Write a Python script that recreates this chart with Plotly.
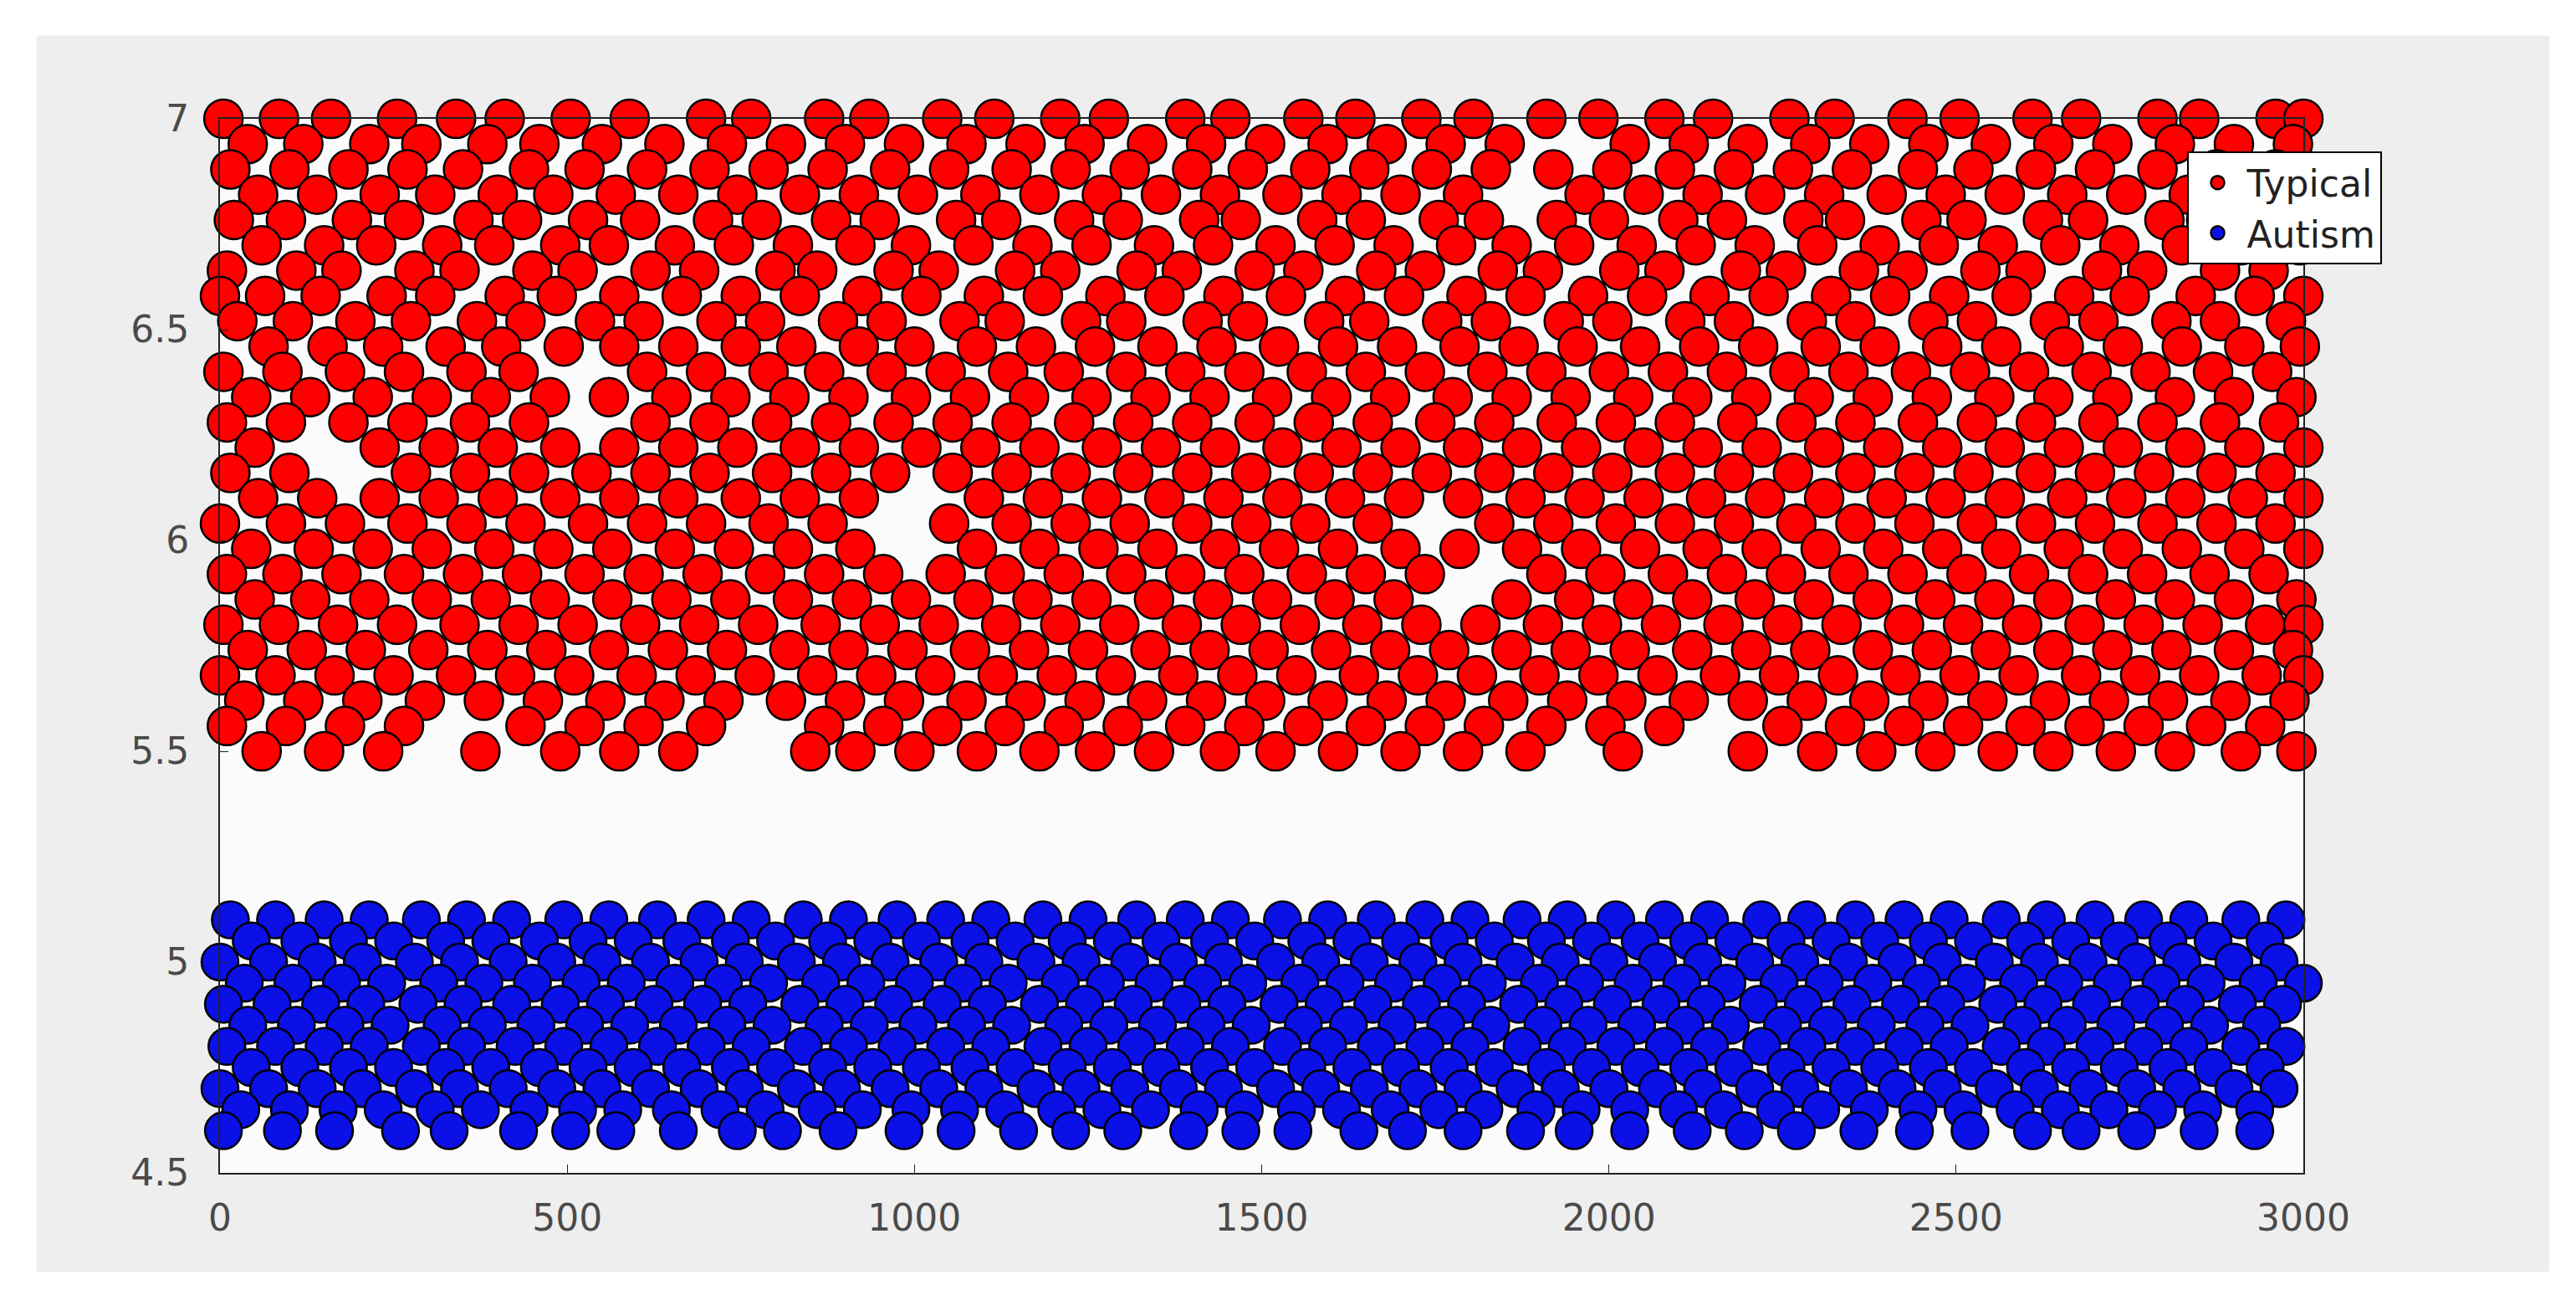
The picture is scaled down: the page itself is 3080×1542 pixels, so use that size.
import plotly.graph_objects as go

# y levels (rows) and x positions, per row
TYPICAL_Y = [7.00, 6.94, 6.88, 6.82, 6.76, 6.70, 6.64, 6.58, 6.52, 6.46, 6.40, 6.34, 6.28,
             6.22, 6.16, 6.10, 6.04, 5.98, 5.92, 5.86, 5.80, 5.74, 5.68, 5.62, 5.56, 5.50]
TYPICAL_X = [
    [5, 85, 160, 255, 340, 410, 505, 590, 700, 765, 870, 935, 1040, 1115, 1210, 1280, 1390, 1455, 1560, 1635, 1730, 1805, 1910, 1985, 2080, 2150, 2260, 2325, 2430, 2505, 2610, 2680, 2790, 2850, 2960, 3000],
    [40, 120, 215, 290, 385, 460, 550, 640, 730, 815, 900, 985, 1075, 1160, 1245, 1335, 1420, 1505, 1595, 1680, 1765, 1850, 2030, 2115, 2200, 2290, 2375, 2460, 2550, 2640, 2725, 2815, 2900, 2985],
    [15, 100, 185, 270, 350, 445, 525, 615, 705, 790, 875, 965, 1050, 1140, 1225, 1310, 1400, 1480, 1570, 1655, 1745, 1830, 1920, 2005, 2095, 2180, 2265, 2350, 2445, 2525, 2615, 2700, 2790, 2875, 2960],
    [55, 140, 230, 310, 400, 480, 570, 660, 745, 835, 920, 1005, 1095, 1180, 1270, 1355, 1440, 1530, 1615, 1700, 1790, 1965, 2050, 2135, 2225, 2310, 2400, 2485, 2570, 2660, 2745, 2835, 2920, 3000],
    [20, 95, 190, 265, 365, 435, 530, 605, 710, 780, 880, 950, 1060, 1125, 1230, 1300, 1410, 1470, 1580, 1650, 1755, 1820, 1925, 2000, 2100, 2170, 2280, 2340, 2450, 2515, 2625, 2690, 2800, 2860, 2970],
    [60, 150, 225, 320, 395, 490, 560, 655, 740, 825, 915, 995, 1085, 1170, 1255, 1345, 1430, 1520, 1605, 1690, 1780, 1860, 1950, 2040, 2125, 2210, 2300, 2390, 2475, 2560, 2650, 2735, 2825, 2910, 2995],
    [10, 110, 175, 280, 345, 450, 515, 620, 690, 800, 860, 970, 1035, 1145, 1210, 1320, 1385, 1490, 1560, 1665, 1735, 1840, 1905, 2015, 2080, 2190, 2255, 2360, 2430, 2535, 2600, 2710, 2775, 2880, 2950],
    [0, 65, 145, 240, 310, 410, 485, 575, 665, 750, 835, 925, 1010, 1100, 1185, 1275, 1360, 1445, 1535, 1620, 1705, 1795, 1880, 1970, 2055, 2145, 2230, 2320, 2405, 2490, 2580, 2670, 2750, 2845, 2930, 3000],
    [25, 105, 195, 275, 370, 440, 540, 610, 715, 785, 890, 960, 1065, 1130, 1240, 1305, 1415, 1480, 1590, 1655, 1760, 1830, 1935, 2005, 2110, 2180, 2285, 2355, 2460, 2530, 2635, 2705, 2810, 2880, 2975],
    [70, 155, 235, 325, 405, 495, 575, 660, 750, 830, 920, 1000, 1090, 1175, 1260, 1350, 1435, 1525, 1610, 1695, 1785, 1870, 1955, 2045, 2130, 2215, 2305, 2390, 2480, 2565, 2655, 2740, 2825, 2915, 2995],
    [5, 90, 180, 265, 355, 430, 615, 700, 790, 870, 960, 1045, 1135, 1215, 1305, 1390, 1475, 1565, 1650, 1735, 1825, 1910, 2000, 2085, 2170, 2260, 2345, 2435, 2520, 2605, 2695, 2780, 2870, 2955],
    [45, 130, 220, 305, 390, 475, 560, 650, 735, 820, 905, 995, 1080, 1165, 1255, 1340, 1425, 1515, 1600, 1685, 1775, 1860, 1945, 2035, 2120, 2205, 2295, 2380, 2465, 2555, 2640, 2725, 2815, 2900, 2990],
    [10, 95, 185, 270, 360, 445, 620, 705, 795, 880, 970, 1055, 1140, 1230, 1315, 1400, 1490, 1575, 1660, 1750, 1835, 1925, 2010, 2095, 2185, 2270, 2355, 2445, 2530, 2615, 2705, 2790, 2880, 2965],
    [50, 230, 315, 400, 490, 575, 660, 745, 835, 920, 1010, 1095, 1180, 1270, 1355, 1440, 1530, 1615, 1700, 1790, 1875, 1960, 2050, 2135, 2220, 2310, 2395, 2480, 2570, 2655, 2740, 2830, 2915, 3000],
    [15, 100, 275, 360, 445, 535, 620, 705, 795, 880, 965, 1055, 1140, 1225, 1315, 1400, 1485, 1575, 1660, 1745, 1835, 1920, 2005, 2095, 2180, 2265, 2355, 2440, 2525, 2615, 2700, 2785, 2875, 2960],
    [55, 140, 230, 315, 400, 490, 575, 660, 750, 835, 920, 1100, 1185, 1270, 1360, 1445, 1530, 1620, 1705, 1790, 1880, 1965, 2050, 2140, 2225, 2310, 2400, 2485, 2570, 2660, 2745, 2830, 2920, 3000],
    [0, 95, 180, 270, 355, 440, 530, 615, 700, 790, 875, 1050, 1140, 1225, 1310, 1400, 1485, 1570, 1660, 1835, 1920, 2010, 2095, 2180, 2270, 2355, 2440, 2530, 2615, 2700, 2790, 2875, 2960],
    [45, 135, 220, 305, 395, 480, 565, 655, 740, 825, 915, 1090, 1180, 1265, 1350, 1440, 1525, 1610, 1700, 1785, 1875, 1960, 2045, 2135, 2220, 2305, 2395, 2480, 2565, 2655, 2740, 2825, 2915, 3000],
    [10, 90, 175, 265, 350, 435, 525, 610, 695, 785, 870, 955, 1045, 1130, 1215, 1305, 1390, 1475, 1565, 1650, 1735, 1910, 1995, 2085, 2170, 2255, 2345, 2430, 2515, 2605, 2690, 2775, 2865, 2950],
    [50, 130, 215, 305, 390, 475, 565, 650, 735, 825, 910, 995, 1085, 1170, 1255, 1345, 1430, 1515, 1605, 1690, 1860, 1950, 2035, 2120, 2210, 2295, 2380, 2470, 2555, 2640, 2730, 2815, 2900, 2990],
    [5, 85, 170, 255, 345, 430, 515, 605, 690, 775, 865, 950, 1035, 1125, 1210, 1295, 1385, 1470, 1555, 1645, 1730, 1815, 1905, 1990, 2075, 2165, 2250, 2335, 2425, 2510, 2595, 2685, 2770, 2855, 2945, 3000],
    [40, 125, 210, 300, 385, 470, 560, 645, 730, 820, 905, 990, 1080, 1165, 1250, 1340, 1425, 1510, 1600, 1685, 1770, 1860, 1945, 2030, 2120, 2205, 2290, 2380, 2465, 2550, 2640, 2725, 2810, 2900, 2985],
    [0, 80, 165, 250, 340, 425, 510, 600, 685, 770, 860, 945, 1030, 1120, 1205, 1290, 1380, 1465, 1550, 1640, 1725, 1810, 1900, 1985, 2070, 2160, 2245, 2330, 2420, 2505, 2590, 2680, 2765, 2850, 2940, 3000],
    [35, 120, 205, 295, 380, 465, 555, 640, 725, 815, 900, 985, 1075, 1160, 1245, 1335, 1420, 1505, 1595, 1680, 1765, 1855, 1940, 2025, 2115, 2200, 2285, 2375, 2460, 2545, 2635, 2720, 2805, 2895, 2980],
    [10, 95, 180, 265, 440, 525, 610, 700, 870, 955, 1040, 1130, 1215, 1300, 1390, 1475, 1560, 1650, 1735, 1820, 1910, 1995, 2080, 2250, 2340, 2425, 2510, 2600, 2685, 2770, 2860, 2945],
    [60, 150, 235, 375, 490, 575, 660, 850, 915, 1000, 1090, 1180, 1260, 1345, 1440, 1520, 1610, 1700, 1790, 1880, 2020, 2200, 2300, 2385, 2470, 2560, 2640, 2730, 2815, 2910, 2990],
]

AUTISM_Y = [5.10, 5.05, 5.00, 4.95, 4.90, 4.85, 4.80, 4.75, 4.70, 4.65, 4.60]
AUTISM_X = [
    [15, 80, 150, 215, 290, 355, 420, 495, 560, 630, 700, 765, 840, 905, 975, 1045, 1110, 1185, 1250, 1320, 1390, 1455, 1530, 1595, 1665, 1735, 1800, 1875, 1940, 2010, 2080, 2145, 2220, 2285, 2355, 2425, 2490, 2565, 2630, 2700, 2770, 2835, 2910, 2975, 3010],
    [45, 115, 185, 250, 325, 390, 460, 530, 595, 665, 735, 800, 875, 940, 1010, 1080, 1145, 1220, 1285, 1355, 1425, 1490, 1565, 1630, 1700, 1770, 1835, 1910, 1975, 2045, 2115, 2180, 2255, 2320, 2390, 2460, 2525, 2600, 2665, 2735, 2805, 2870, 2945, 3005],
    [0, 70, 140, 205, 280, 345, 415, 485, 550, 620, 690, 755, 830, 895, 965, 1035, 1100, 1175, 1240, 1310, 1380, 1445, 1520, 1585, 1655, 1725, 1790, 1865, 1930, 2000, 2070, 2135, 2210, 2275, 2345, 2415, 2480, 2555, 2620, 2690, 2760, 2825, 2900, 2965, 3015],
    [35, 105, 175, 240, 315, 380, 450, 520, 585, 655, 725, 790, 865, 930, 1000, 1070, 1135, 1210, 1275, 1345, 1415, 1480, 1555, 1620, 1690, 1760, 1825, 1900, 1965, 2035, 2105, 2170, 2245, 2310, 2380, 2450, 2515, 2590, 2655, 2725, 2795, 2860, 2935, 3000],
    [5, 75, 145, 210, 285, 350, 420, 490, 555, 625, 695, 760, 835, 900, 970, 1040, 1105, 1180, 1245, 1315, 1385, 1450, 1525, 1590, 1660, 1730, 1795, 1870, 1935, 2005, 2075, 2140, 2215, 2280, 2350, 2420, 2485, 2560, 2625, 2695, 2765, 2830, 2905, 2970, 3020],
    [40, 110, 180, 245, 320, 385, 455, 525, 590, 660, 730, 795, 870, 935, 1005, 1075, 1140, 1215, 1280, 1350, 1420, 1485, 1560, 1625, 1695, 1765, 1830, 1905, 1970, 2040, 2110, 2175, 2250, 2315, 2385, 2455, 2520, 2595, 2660, 2730, 2800, 2865, 2940, 3005],
    [10, 80, 150, 215, 290, 355, 425, 495, 560, 630, 700, 765, 840, 905, 975, 1045, 1110, 1185, 1250, 1320, 1390, 1455, 1530, 1595, 1665, 1735, 1800, 1875, 1940, 2010, 2080, 2145, 2220, 2285, 2355, 2425, 2490, 2565, 2630, 2700, 2770, 2835, 2910, 2975, 3015],
    [45, 115, 185, 250, 325, 390, 460, 530, 595, 665, 735, 800, 875, 940, 1010, 1080, 1145, 1220, 1285, 1355, 1425, 1490, 1565, 1630, 1700, 1770, 1835, 1910, 1975, 2045, 2115, 2180, 2255, 2320, 2390, 2460, 2525, 2600, 2665, 2735, 2805, 2870, 2945, 3010],
    [0, 70, 140, 205, 280, 345, 415, 485, 550, 620, 690, 755, 830, 895, 965, 1035, 1100, 1175, 1240, 1310, 1380, 1445, 1520, 1585, 1655, 1725, 1790, 1865, 1930, 2000, 2070, 2135, 2210, 2275, 2345, 2415, 2480, 2555, 2620, 2690, 2760, 2825, 2900, 2965, 3015],
    [30, 100, 170, 235, 310, 375, 445, 515, 580, 650, 720, 785, 860, 925, 995, 1065, 1130, 1205, 1270, 1340, 1410, 1475, 1550, 1615, 1685, 1755, 1820, 1895, 1960, 2030, 2100, 2165, 2240, 2305, 2375, 2445, 2510, 2585, 2650, 2720, 2790, 2855, 2930, 3005],
    [5, 90, 165, 260, 330, 430, 505, 570, 660, 745, 810, 890, 985, 1060, 1150, 1225, 1300, 1395, 1470, 1545, 1640, 1710, 1790, 1880, 1950, 2030, 2120, 2195, 2270, 2360, 2440, 2520, 2610, 2680, 2760, 2850, 2930, 3010],
]

X_TICKS = [0, 500, 1000, 1500, 2000, 2500, 3000]
Y_TICKS = [4.5, 5, 5.5, 6, 6.5, 7]
Y_TICK_TEXT = ["4.5", "5", "5.5", "6", "6.5", "7"]


def flatten(levels, rows):
    xs, ys = [], []
    for y, row in zip(levels, rows):
        for x in row:
            xs.append(x)
            ys.append(y)
    return xs, ys


tx, ty = flatten(TYPICAL_Y, TYPICAL_X)
ax, ay = flatten(AUTISM_Y, AUTISM_X)

fig = go.Figure()
fig.add_trace(go.Scatter(x=tx, y=ty, mode="markers", name="Typical", cliponaxis=False,
                         marker=dict(size=46, color="#ff0000", line=dict(color="black", width=2.5))))
fig.add_trace(go.Scatter(x=ax, y=ay, mode="markers", name="Autism", cliponaxis=False,
                         marker=dict(size=44, color="#0a10e6", line=dict(color="black", width=2.5))))

# grey figure panel, then white axes area on top of it
fig.add_shape(type="rect", xref="paper", yref="paper", x0=-0.088, x1=1.118, y0=-0.094, y1=1.079,
              fillcolor="#eeeeee", line=dict(width=0), layer="below")
fig.add_shape(type="rect", xref="paper", yref="paper", x0=0, x1=1, y0=0, y1=1,
              fillcolor="#fbfbfb", line=dict(width=0), layer="below")

axis_style = dict(showgrid=False, zeroline=False, showline=True, linecolor="#222222", linewidth=2,
                  mirror=True, ticks="inside", ticklen=10, tickcolor="#222222",
                  tickfont=dict(family="DejaVu Sans", size=44, color="#4a4a4a"))
fig.update_xaxes(range=[0, 3000], tickvals=X_TICKS, ticklabelstandoff=14, **axis_style)
fig.update_yaxes(range=[4.5, 7], tickvals=Y_TICKS, ticktext=Y_TICK_TEXT, ticklabelstandoff=26, **axis_style)

fig.update_layout(
    width=3080, height=1542,
    margin=dict(l=255, r=334, t=134, b=148),
    paper_bgcolor="white", plot_bgcolor="white",
    legend=dict(x=0.944, y=0.969, xanchor="left", yanchor="top", bgcolor="white",
                bordercolor="black", borderwidth=2, tracegroupgap=0,
                font=dict(family="DejaVu Sans", size=44, color="#222222"), itemsizing="trace",
                itemwidth=60),
)

fig.write_html("out.html")
